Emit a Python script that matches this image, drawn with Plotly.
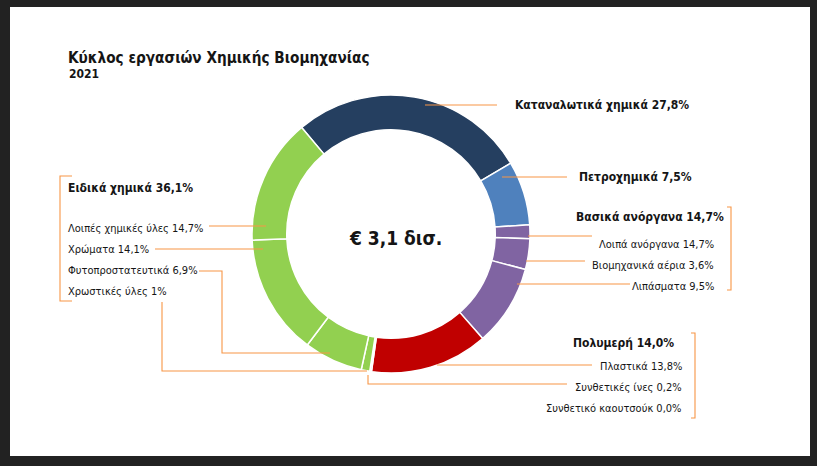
import plotly.graph_objects as go

W, H = 817, 466

# ---- data ----
slice_names = [
    "Καταναλωτικά χημικά", "Πετροχημικά", "Λοιπά ανόργανα", "Βιομηχανικά αέρια",
    "Λιπάσματα", "Πλαστικά", "Συνθετικές ίνες", "Συνθετικό καουτσούκ",
    "Χρωστικές ύλες", "Φυτοπροστατευτικά", "Χρώματα", "Λοιπές χημικές ύλες",
]
slice_values = [27.8, 7.5, 1.6, 3.6, 9.5, 13.8, 0.2, 0.0, 1.0, 6.9, 14.1, 14.7]
slice_colors = ["#253F60", "#4F81BD", "#8064A2", "#8064A2", "#8064A2", "#C00000",
                "#C9C3E0", "#C00000", "#92D050", "#92D050", "#92D050", "#92D050"]

title_text = "Κύκλος εργασιών Χημικής Βιομηχανίας"
subtitle_text = "2021"
center_text = "€ 3,1 δισ."

group_labels = ["Ειδικά χημικά 36,1%", "Βασικά ανόργανα 14,7%", "Πολυμερή 14,0%"]
top_labels = ["Καταναλωτικά χημικά 27,8%", "Πετροχημικά 7,5%"]
left_labels = ["Λοιπές χημικές ύλες 14,7%", "Χρώματα 14,1%",
               "Φυτοπροστατευτικά 6,9%", "Χρωστικές ύλες 1%"]
inorg_labels = ["Λοιπά ανόργανα 14,7%", "Βιομηχανικά αέρια 3,6%", "Λιπάσματα 9,5%"]
poly_labels = ["Πλαστικά 13,8%", "Συνθετικές ίνες 0,2%", "Συνθετικό καουτσούκ 0,0%"]


def px(x):
    return x / W


def py(y):
    return 1 - y / H


FONT = "DejaVu Sans Condensed, DejaVu Sans"
ORANGE = "#F79646"

cx, cy, R = 391, 234, 139

fig = go.Figure()
fig.add_trace(go.Pie(
    labels=slice_names, values=slice_values,
    marker=dict(colors=slice_colors, line=dict(color="white", width=1.5)),
    hole=0.75, sort=False, direction="clockwise", rotation=-40,
    textinfo="none", hoverinfo="label+value", showlegend=False,
    domain=dict(x=[px(cx - R), px(cx + R)], y=[py(cy + R), py(cy - R)]),
))

shapes = [
    dict(type="rect", xref="paper", yref="paper", x0=px(10), x1=px(810),
         y0=py(456), y1=py(7), fillcolor="white", line=dict(width=0), layer="below"),
]


def path(points):
    d = "M " + " L ".join(f"{px(x):.5f},{py(y):.5f}" for x, y in points)
    return dict(type="path", xref="paper", yref="paper", path=d,
                line=dict(color=ORANGE, width=1.1))


# leader lines
shapes += [
    path([(425, 105), (497, 105)]),
    path([(502, 177), (567, 177)]),
    path([(528, 236), (592, 236)]),
    path([(526, 261), (585, 261)]),
    path([(517, 284), (630, 284)]),
    path([(437, 365), (592, 365)]),
    path([(368, 375), (368, 384), (567, 384)]),
    path([(209, 226), (266, 226)]),
    path([(155, 249), (263, 249)]),
    path([(199, 271), (222, 271), (222, 353), (330, 353)]),
    path([(162, 302), (162, 371), (367, 371)]),
    # brackets
    path([(72, 176), (60, 176), (60, 301), (72, 301)]),
    path([(727, 207), (731, 207), (731, 290), (727, 290)]),
    path([(691, 333), (695, 333), (695, 418), (691, 418)]),
]

ann = []


def text(t, x, y, size, bold=False, anchor="left"):
    ann.append(dict(text=f"<b>{t}</b>" if bold else t, x=px(x), y=py(y),
                    xref="paper", yref="paper", xanchor=anchor, yanchor="middle",
                    showarrow=False, font=dict(family=FONT, size=size, color="#151515")))


text(title_text, 66, 58, 15.2, True)
text(subtitle_text, 67, 74, 12, True)
text(center_text, cx + 4, 238, 19, True, "center")

text(top_labels[0], 513, 105, 12, True)
text(top_labels[1], 577, 177, 12, True)

text(group_labels[0], 66, 188, 12, True)
for lab, y in zip(left_labels, [228, 249, 270, 291]):
    text(lab, 66, y, 11)

text(group_labels[1], 726, 217, 12, True, "right")
for lab, y in zip(inorg_labels, [244, 265, 286]):
    text(lab, 716, y, 11, anchor="right")

text(group_labels[2], 676, 343, 12, True, "right")
for lab, y in zip(poly_labels, [366, 387, 408]):
    text(lab, 684, y, 11, anchor="right")

fig.update_layout(
    width=W, height=H, margin=dict(l=0, r=0, t=0, b=0),
    paper_bgcolor="#222222", plot_bgcolor="#222222",
    shapes=shapes, annotations=ann,
)

fig.write_html(
    "out.html",
    config={"displayModeBar": False},
    post_script="document.body.style.margin='0';document.body.style.background='#222222';",
)
